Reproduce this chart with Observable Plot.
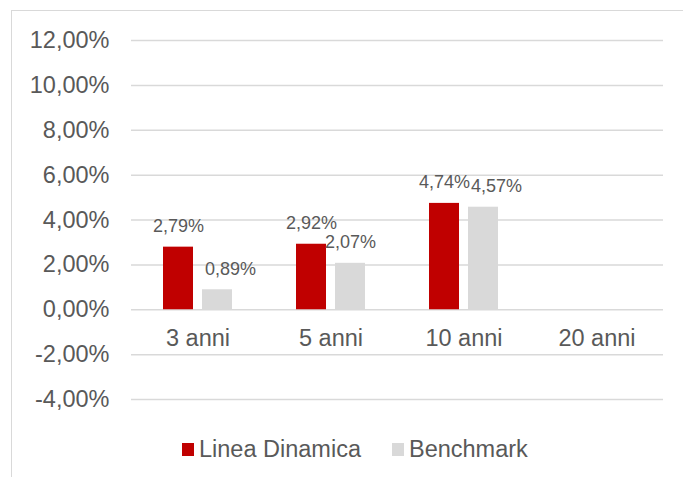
<!DOCTYPE html>
<html>
<head>
<meta charset="utf-8">
<script src="https://cdn.jsdelivr.net/npm/d3@7"></script>
<script src="https://cdn.jsdelivr.net/npm/@observablehq/plot@0.6"></script>
<style>
  html, body { margin: 0; padding: 0; background: #fff; overflow: hidden; }
  #wrap { position: relative; width: 683px; height: 477px; font-family: "Liberation Sans", Arial, sans-serif; }
  #frame { position: absolute; left: 11px; top: 10px; width: 720px; height: 520px; border: 1.5px solid #d9d9d9; box-sizing: border-box; }
  #chart { position: absolute; left: 0; top: 0; }
  #legend { position: absolute; left: 182px; top: 436px; display: flex; align-items: center; font-size: 23.5px; color: #595959; }
  .item { display: flex; align-items: center; margin-right: 31px; }
  .sw { width: 12px; height: 13px; margin-right: 5px; }
</style>
</head>
<body>
<div id="wrap">
  <div id="frame"></div>
  <div id="chart"></div>
  <div id="legend"></div>
</div>
<script>
const categories = ["3 anni", "5 anni", "10 anni", "20 anni"];
const seriesNames = ["Linea Dinamica", "Benchmark"];
const lineaDinamica = [2.79, 2.92, 4.74, null];
const benchmark = [0.89, 2.07, 4.57, null];
const yTicks = [-4, -2, 0, 2, 4, 6, 8, 10, 12];
const colors = ["#C00000", "#D9D9D9"];

const rows = [];
categories.forEach((c, i) => {
  rows.push({cat: c, series: seriesNames[0], value: lineaDinamica[i]});
  rows.push({cat: c, series: seriesNames[1], value: benchmark[i]});
});
const valid = rows.filter(d => d.value != null);
const fmt = v => v.toFixed(2).replace(".", ",") + "%";
const nudged = new Set(["3 anni|Benchmark", "10 anni|Benchmark"]);
const labelsNormal = valid.filter(d => !nudged.has(d.cat + "|" + d.series));
const labelsNudged = valid.filter(d => nudged.has(d.cat + "|" + d.series));

const textColor = "#595959";

const chart = Plot.plot({
  width: 683,
  height: 420,
  marginLeft: 131,
  marginRight: 20,
  marginTop: 40,
  marginBottom: 21,
  style: {fontFamily: "'Liberation Sans', Arial, sans-serif", fontSize: "23.5px", color: textColor, background: "transparent"},
  fx: {domain: categories, padding: 0, axis: null, label: null},
  x: {type: "band", domain: seriesNames, paddingInner: 0.23, paddingOuter: 0.82, axis: null, label: null},
  y: {domain: [-4, 12], axis: null, label: null},
  color: {domain: seriesNames, range: colors},
  marks: [
    Plot.ruleY(yTicks, {stroke: "#d9d9d9", strokeWidth: 1.5}),
    Plot.axisY({ticks: yTicks, tickFormat: fmt, tickSize: 0, tickPadding: 22, fontSize: 23.5, fill: textColor, label: null}),
    Plot.barY(valid, {fx: "cat", x: "series", y: "value", fill: "series"}),
    Plot.text(labelsNormal, {fx: "cat", x: "series", y: "value", text: d => fmt(d.value), dy: -21, fontSize: 18, fill: textColor}),
    Plot.text(labelsNudged, {fx: "cat", x: "series", y: "value", text: d => fmt(d.value), dy: -21, dx: 13, fontSize: 18, fill: textColor}),
    Plot.text(categories, {fx: d => d, y: 0, text: d => d, dy: 29, fontSize: 23.5, fill: textColor})
  ]
});
document.getElementById("chart").appendChild(chart);

const legend = document.getElementById("legend");
seriesNames.forEach((s, i) => {
  const item = document.createElement("div");
  item.className = "item";
  const sw = document.createElement("span");
  sw.className = "sw";
  sw.style.background = colors[i];
  const lbl = document.createElement("span");
  lbl.textContent = s;
  item.appendChild(sw);
  item.appendChild(lbl);
  legend.appendChild(item);
});
</script>
</body>
</html>
